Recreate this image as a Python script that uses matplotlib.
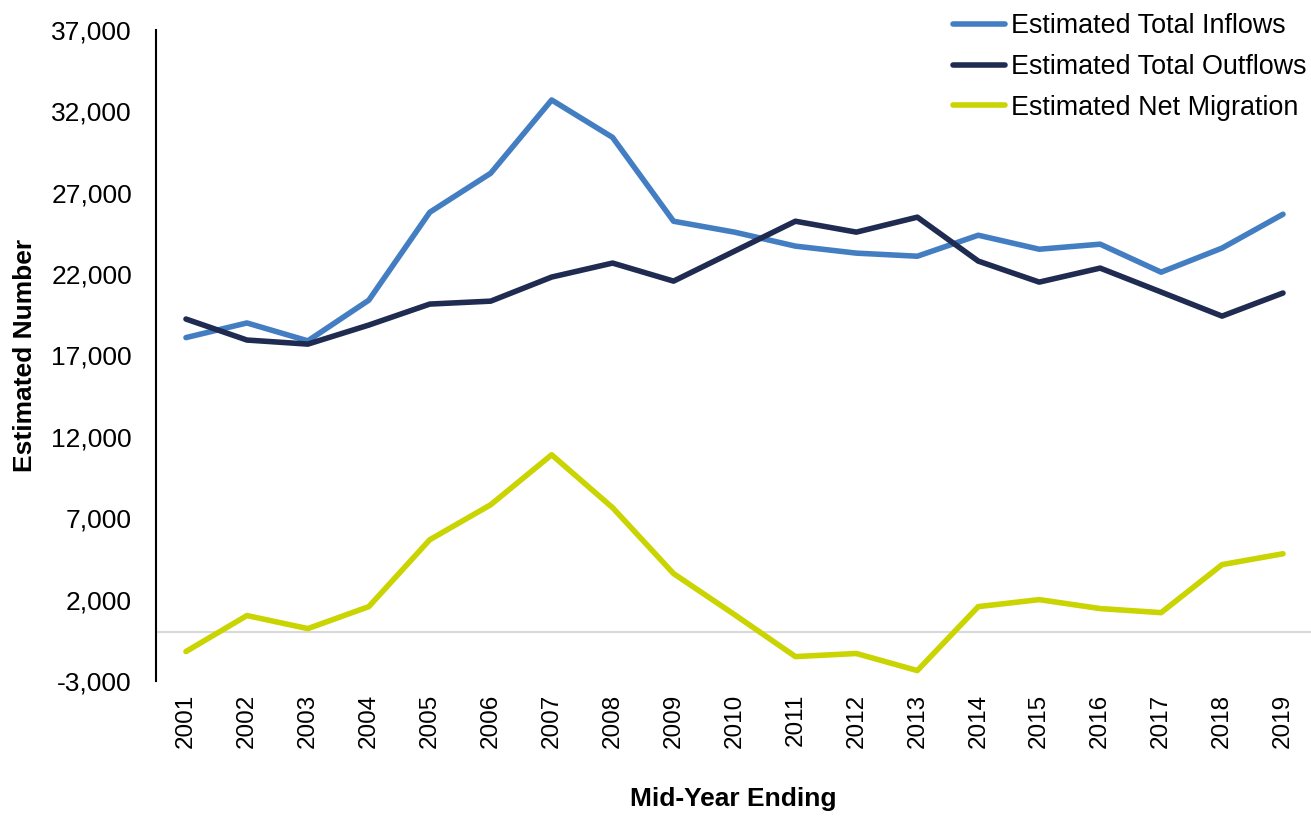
import matplotlib
matplotlib.use("Agg")
import matplotlib.pyplot as plt
from matplotlib.ticker import FuncFormatter

years = [str(y) for y in range(2001, 2020)]
inflows = [18100, 19000, 17900, 20400, 25800, 28200, 32700, 30400, 25250, 24580,
           23720, 23290, 23100, 24390, 23530, 23840, 22120, 23600, 25680]
outflows = [19240, 17950, 17700, 18870, 20160, 20340, 21820, 22680, 21570, 23410,
            25250, 24580, 25500, 22800, 21510, 22370, 20900, 19420, 20840]
net = [-1190, 1020, 220, 1570, 5680, 7830, 10900, 7650, 3600, 1080,
       -1500, -1310, -2360, 1570, 2000, 1450, 1200, 4150, 4820]
yticks = [-3000, 2000, 7000, 12000, 17000, 22000, 27000, 32000, 37000]

plt.rcParams['font.family'] = ['Liberation Sans', 'DejaVu Sans']

W, H = 1311, 816
fig = plt.figure(figsize=(W / 100, H / 100), dpi=100)
ax = fig.add_axes([155.5 / W, (H - 681) / H, (W - 155.5) / W, 651 / H])

x = list(range(len(years)))
ax.axhline(0, color='#D9D9D9', lw=1.5, zorder=1)
ax.plot(x, inflows, color='#447EC2', lw=4, label='Estimated Total Inflows',
        solid_capstyle='round', zorder=3)
ax.plot(x, outflows, color='#1F2B50', lw=4, label='Estimated Total Outflows',
        solid_capstyle='round', zorder=3)
ax.plot(x, net, color='#C9D400', lw=4, label='Estimated Net Migration',
        solid_capstyle='round', zorder=3)

ax.set_xlim(-0.5, (W - 186) / ((1283 - 186) / 18))
ax.set_ylim(-3000, 37000)
ax.set_yticks(yticks)
ax.yaxis.set_major_formatter(FuncFormatter(lambda v, p: f"{int(v):,}"))
ax.set_xticks(x)
ax.set_xticklabels(years, rotation=90)
ax.tick_params(axis='both', length=0, colors='black')
ax.tick_params(axis='y', pad=17, labelsize=19)
ax.tick_params(axis='x', pad=9, labelsize=17.5)

for s in ['top', 'right', 'bottom']:
    ax.spines[s].set_visible(False)
ax.spines['left'].set_color('black')
ax.spines['left'].set_linewidth(1.5)

ax.set_ylabel('Estimated Number', fontsize=19, fontweight='bold', labelpad=10)
ax.set_xlabel('Mid-Year Ending', fontsize=19, fontweight='bold', labelpad=28)

leg = fig.legend(loc='upper right', bbox_to_anchor=(1.0065, 1.0), frameon=False,
                 fontsize=19.4, handlelength=1.95, handletextpad=0.2,
                 labelspacing=0.54, borderaxespad=0.1)

fig.savefig('out.png', dpi=100)
